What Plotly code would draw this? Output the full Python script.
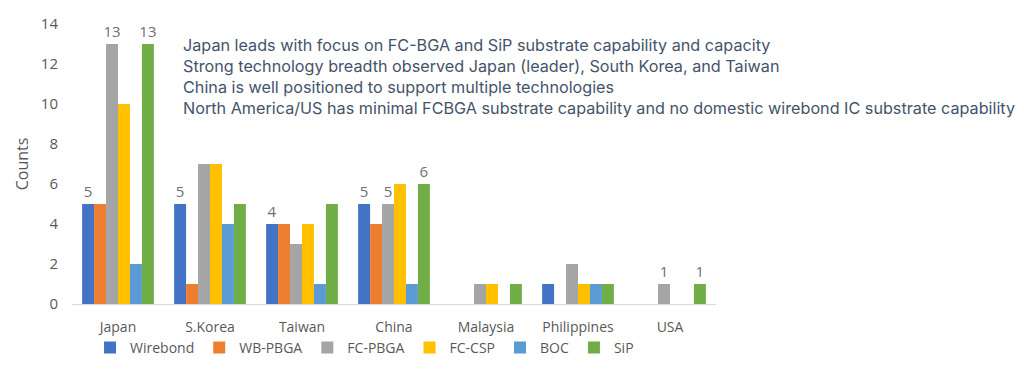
import plotly.graph_objects as go

regions = ["Japan", "S.Korea", "Taiwan", "China", "Malaysia", "Philippines", "USA"]
series_names = ["Wirebond", "WB-PBGA", "FC-PBGA", "FC-CSP", "BOC", "SiP"]
wirebond = [5, 5, 4, 5, 0, 1, 0]
wb_pbga = [5, 1, 4, 4, 0, 0, 0]
fc_pbga = [13, 7, 3, 5, 1, 2, 1]
fc_csp = [10, 7, 4, 6, 1, 1, 0]
boc = [2, 4, 1, 1, 0, 1, 0]
sip = [13, 5, 5, 6, 1, 1, 1]
# data labels shown in the reference (blank = not shown)
wirebond_labels = ["5", "5", "4", "5", "", "", ""]
wb_pbga_labels = [""] * 7
fc_pbga_labels = ["13", "", "", "5", "", "", "1"]
fc_csp_labels = [""] * 7
boc_labels = [""] * 7
sip_labels = ["13", "", "", "6", "", "", "1"]
notes = [
    "Japan leads with focus on FC-BGA and SiP substrate capability and capacity",
    "Strong technology breadth observed Japan (leader), South Korea, and Taiwan",
    "China is well positioned to support multiple technologies",
    "North America/US has minimal FCBGA substrate capability and no domestic wirebond IC substrate capability",
]

values = [wirebond, wb_pbga, fc_pbga, fc_csp, boc, sip]
labels = [wirebond_labels, wb_pbga_labels, fc_pbga_labels, fc_csp_labels, boc_labels, sip_labels]
colors = ["#4472C4", "#ED7D31", "#A5A5A5", "#FFC000", "#5B9BD5", "#70AD47"]

fig = go.Figure()
for name, vals, lab, col in zip(series_names, values, labels, colors):
    fig.add_trace(go.Bar(
        name=name, x=regions, y=vals, marker_color=col, marker_line_width=0,
        text=lab, textposition="outside", cliponaxis=False, constraintext="none",
        textfont=dict(size=15, color="#707070", family="Open Sans"),
    ))

for i, line in enumerate(notes):
    fig.add_annotation(
        text=line, xref="paper", yref="paper", x=0.169, y=0.925 - i * 0.075,
        xanchor="left", yanchor="middle", showarrow=False,
        font=dict(size=16.2, color="#44546A", family="Inter"),
    )

fig.update_layout(
    width=1024, height=381,
    margin=dict(l=64, r=316, t=16, b=85),
    plot_bgcolor="white", paper_bgcolor="white",
    barmode="group", bargap=0.22, bargroupgap=0,
    font=dict(family="Open Sans", color="#595959", size=14),
    showlegend=True,
    legend=dict(orientation="h", x=0.028, y=0.108, xref="paper", yref="container",
                xanchor="left", yanchor="middle", bgcolor="rgba(0,0,0,0)",
                font=dict(size=14, color="#595959"), itemwidth=30,
                traceorder="normal"),
    xaxis=dict(showline=True, linecolor="#D9D9D9", linewidth=1, ticks="",
               tickfont=dict(size=14, color="#595959"), ticklabelstandoff=10,
               automargin=False),
    yaxis=dict(range=[0, 14], dtick=2, showgrid=False, zeroline=False, automargin=False,
               title=dict(text="Counts", font=dict(size=16, color="#595959"), standoff=8),
               tickfont=dict(size=15, color="#595959"), ticklabelstandoff=13),
)

fig.write_html("out.html")
